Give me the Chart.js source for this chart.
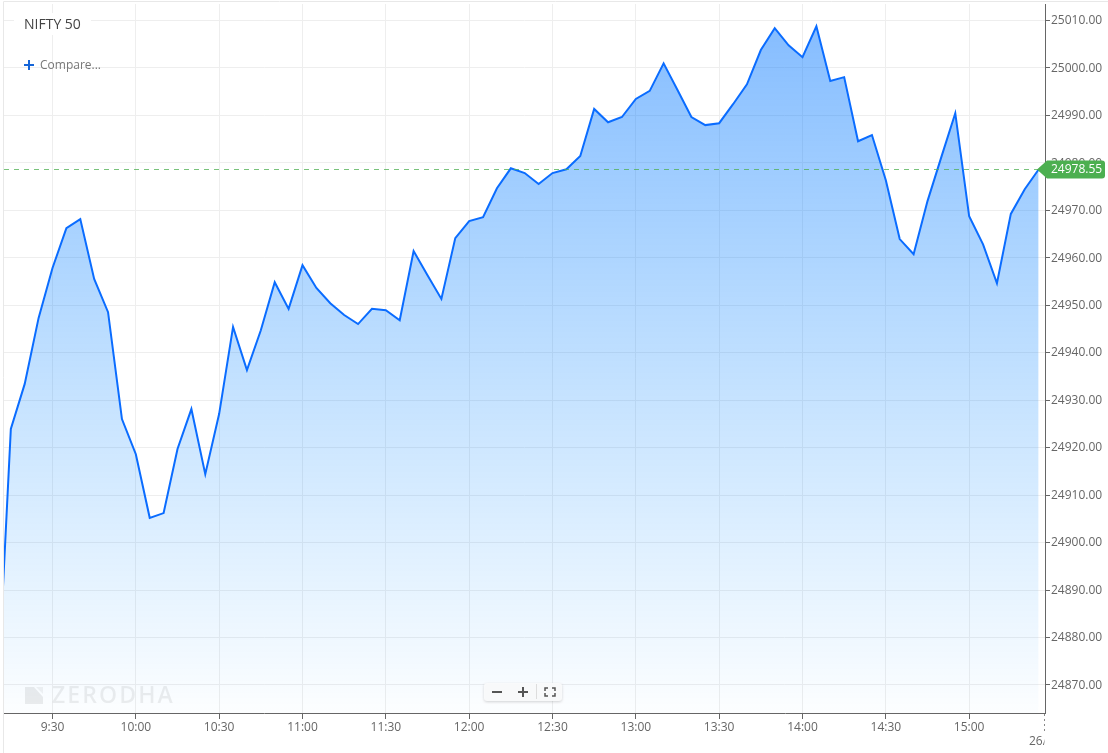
<!DOCTYPE html>
<html><head><meta charset="utf-8">
<script src="https://cdn.jsdelivr.net/npm/chart.js@4/dist/chart.umd.min.js"></script>
<style>html,body{margin:0;padding:0;background:#fff}canvas{display:block}</style>
</head><body><canvas id="c" width="1108" height="753"></canvas>
<script>
const chartTitle = "NIFTY 50";
const compareLabel = "Compare...";
const watermark = "ZERODHA";
const startMinute = 550; // 9:10, one 5-minute bar before the visible session start
const stepMinutes = 5;
const prices = [
24865,24923.9,24933.4,24947.3,24957.8,24966.2,24968.1,24955.5,24948.5,24926,
24918.6,24905.2,24906.2,24919.7,24928.1,24914.4,24927.1,24945.4,24936.3,24944.7,
24954.8,24949.2,24958.4,24953.6,24950.4,24947.9,24946,24949.2,24948.9,24946.8,
24961.4,24956.3,24951.3,24964.1,24967.7,24968.5,24974.6,24978.8,24977.8,24975.5,
24977.8,24978.6,24981.4,24991.3,24988.5,24989.6,24993.4,24995.1,25000.9,24995.3,
24989.6,24987.9,24988.3,24992.3,24996.5,25003.7,25008.3,25004.7,25002.2,25008.7,
24997.2,24998,24984.5,24985.8,24976.3,24963.9,24960.7,24971.9,24981.2,24990.4,
24968.7,24962.8,24954.6,24969.2,24974.4,24978.55];
const lastPrice = 24978.55;
const timeTicks = [570,600,630,660,690,720,750,780,810,840,870,900];
const timeLabels = ["9:30","10:00","10:30","11:00","11:30","12:00","12:30","13:00","13:30","14:00","14:30","15:00"];
const priceTicks = [24870,24880,24890,24900,24910,24920,24930,24940,24950,24960,24970,24980,24990,25000,25010];
const dateLabel = "26/";

const FONT = '"Open Sans"';
const points = prices.map((v,i)=>({x:startMinute+i*stepMinutes,y:v}));

const under = {
  id:'under',
  beforeDatasetsDraw(ch){
    const c=ch.ctx;
    c.save();
    c.fillStyle='rgba(0,0,0,0.075)';
    c.beginPath();c.moveTo(25,687);c.lineTo(34,687);c.lineTo(43,697);c.lineTo(43,704);c.lineTo(25,704);c.closePath();c.fill();
    c.fillStyle='rgba(0,0,0,0.05)';
    c.beginPath();c.moveTo(36,687);c.lineTo(43,687);c.lineTo(43,694);c.closePath();c.fill();
    c.fillStyle='rgba(0,0,0,0.07)';
    c.font='600 23px '+FONT;c.textBaseline='alphabetic';c.textAlign='left';
    c.letterSpacing='2.1px';
    c.fillText(watermark,52,703);
    c.restore();
  }
};
const over = {
  id:'over',
  afterDraw(ch){
    const c=ch.ctx, y=ch.scales.y.getPixelForValue(lastPrice), a=ch.chartArea;
    c.save();
    // outer frame
    c.strokeStyle='#e8e8e8';c.lineWidth=1;
    c.beginPath();c.moveTo(3.5,753);c.lineTo(3.5,1.5);c.lineTo(1108,1.5);c.stroke();
    // last price line
    c.strokeStyle='rgba(76,175,80,0.75)';c.setLineDash([5,5]);
    c.beginPath();c.moveTo(a.left,Math.round(y)+.5);c.lineTo(1040,Math.round(y)+.5);c.stroke();
    c.setLineDash([]);
    // last price badge
    c.fillStyle='#4caf50';
    c.beginPath();c.moveTo(1037,y);c.lineTo(1047,y-9);c.lineTo(1102,y-9);
    c.quadraticCurveTo(1105,y-9,1105,y-6);c.lineTo(1105,y+6);c.quadraticCurveTo(1105,y+9,1102,y+9);
    c.lineTo(1047,y+9);c.closePath();c.fill();
    c.fillStyle='#fff';c.font='12px '+FONT;c.textAlign='left';c.textBaseline='middle';
    c.fillText(lastPrice.toFixed(2),1051,y+.5);
    // title
    c.fillStyle='#fff';c.fillRect(14,13,77,22);
    c.fillStyle='#444';c.font='14px '+FONT;c.textBaseline='middle';
    c.fillText(chartTitle,24,25.5);
    // compare
    c.fillStyle='#1565d8';c.fillRect(24,64,10,2);c.fillRect(28,60,2,10);
    c.fillStyle='#777';c.font='12px '+FONT;
    c.fillText(compareLabel,40,66);
    // zoom control
    c.shadowColor='rgba(0,0,0,0.18)';c.shadowBlur=3;c.shadowOffsetY=1;
    c.fillStyle='rgba(250,251,252,0.95)';
    c.beginPath();c.roundRect(484,683,78,18,3);c.fill();
    c.shadowColor='transparent';c.shadowBlur=0;c.shadowOffsetY=0;
    c.fillStyle='#555';
    c.fillRect(492,691,10,2);
    c.fillRect(518,691,10,2);c.fillRect(522,687,2,10);
    c.fillStyle='#ddd';c.fillRect(536,684,1,15);
    c.strokeStyle='#555';c.lineWidth=1.5;
    c.beginPath();
    [[545,691,545,688,548,688],[552,688,555,688,555,691],[555,693,555,696,552,696],[548,696,545,696,545,693]].forEach(p=>{c.moveTo(p[0],p[1]);c.lineTo(p[2],p[3]);c.lineTo(p[4],p[5]);});
    c.stroke();
    // date tick and clipped date label
    c.strokeStyle='#888';c.lineWidth=1;c.setLineDash([2,3]);
    c.beginPath();c.moveTo(1044.5,714);c.lineTo(1044.5,733);c.stroke();c.setLineDash([]);
    c.beginPath();c.rect(1000,733,44.5,18);c.clip();
    c.fillStyle='#666';c.font='12px '+FONT;c.fillText(dateLabel,1029,741.5);
    c.restore();
  }
};

new Chart(document.getElementById('c'),{
  type:'line',
  data:{datasets:[{
    data:points,
    borderColor:'#0a6cff',borderWidth:2,pointRadius:0,tension:0,
    borderJoinStyle:'miter',
    fill:'start',
    backgroundColor(ctx){
      const a=ctx.chart.chartArea;
      if(!a) return 'rgba(0,113,255,.4)';
      const g=ctx.chart.ctx.createLinearGradient(0,a.top,0,a.bottom);
      g.addColorStop(0,'rgba(0,115,255,0.49)');
      g.addColorStop(1,'rgba(0,140,255,0.01)');
      return g;
    }
  }]},
  options:{
    responsive:false,animation:false,
    layout:{padding:{left:4,top:4,right:0,bottom:0}},
    plugins:{legend:{display:false},tooltip:{enabled:false},title:{display:false}},
    scales:{
      x:{type:'linear',min:552.54,max:927.3,
        afterBuildTicks(s){s.ticks=timeTicks.map(v=>({value:v}));},
        afterFit(s){s.height=40;s.paddingLeft=0;s.paddingRight=0;},
        border:{color:'#666',width:1},
        grid:{color:'#eeeeee',tickColor:'#666',tickLength:6,lineWidth:1},
        ticks:{autoSkip:false,maxRotation:0,padding:1,color:'#666',font:{family:'Open Sans',size:12},
          callback(v){const i=timeTicks.indexOf(v);return i>=0?timeLabels[i]:'';}}
      },
      y:{type:'linear',position:'right',min:24864.1,max:25013.4,
        afterBuildTicks(s){s.ticks=priceTicks.map(v=>({value:v}));},
        afterFit(s){s.width=63;s.paddingTop=0;s.paddingBottom=0;},
        border:{color:'#666',width:1},
        grid:{color:'#eeeeee',tickColor:'#666',tickLength:5,lineWidth:1},
        ticks:{autoSkip:false,padding:1,labelOffset:0.5,color:'#666',font:{family:'Open Sans',size:12},
          callback(v){return v.toFixed(2);}}
      }
    }
  },
  plugins:[under,over]
});
</script></body></html>
